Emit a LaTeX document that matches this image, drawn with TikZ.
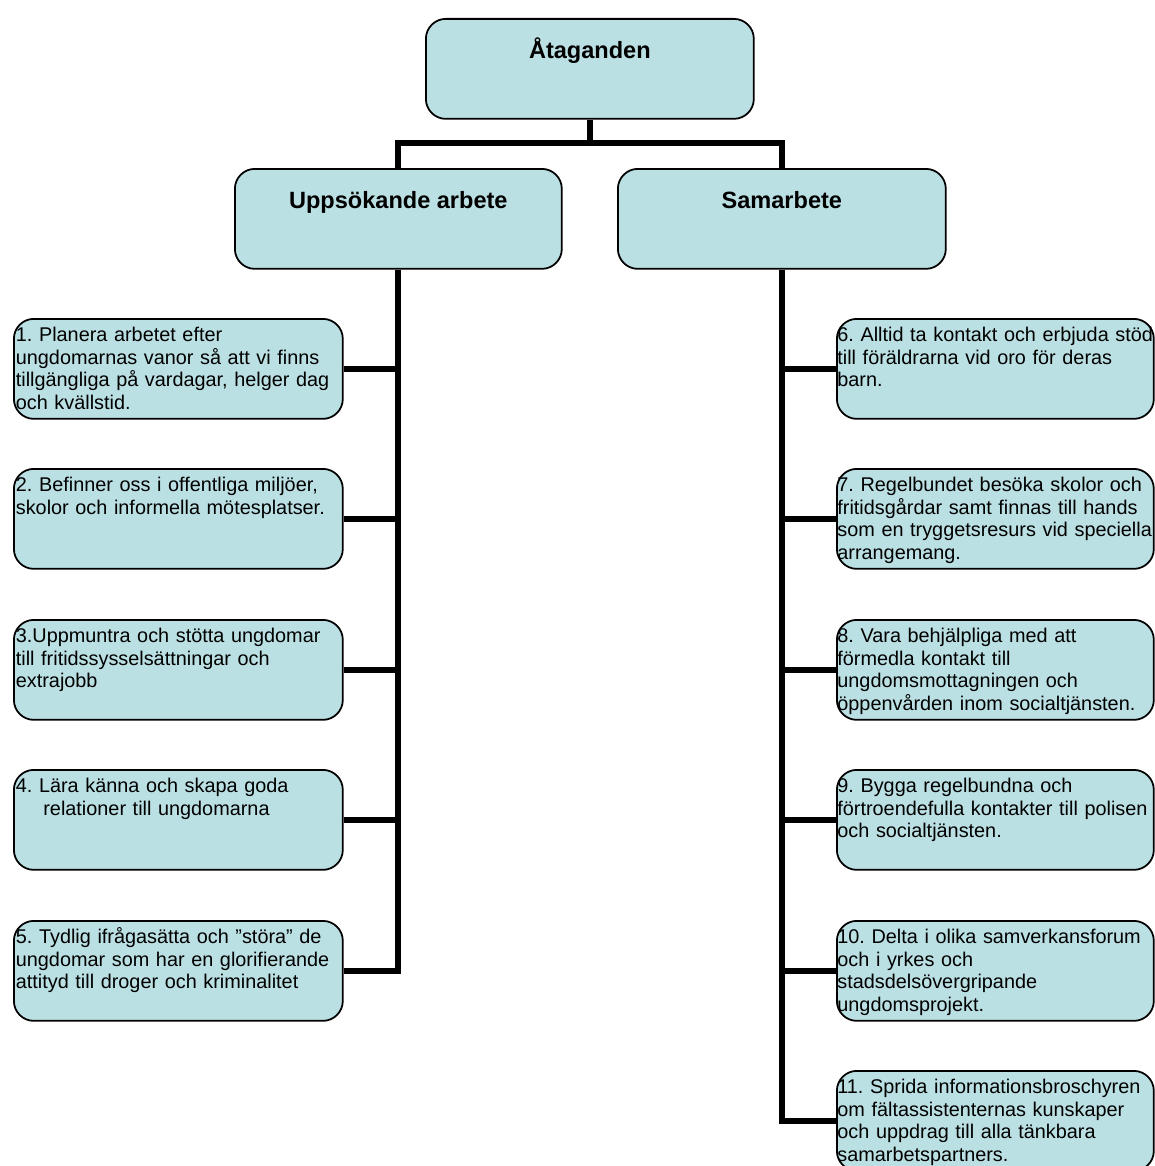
\documentclass[tikz,border=0pt]{standalone}
\usepackage{fontspec}
\setmainfont{Liberation Sans}
\usetikzlibrary{calc}
\frenchspacing
\definecolor{boxfill}{RGB}{187,224,227}
\tikzset{
  box/.style={draw, fill=boxfill, line width=1pt, rounded corners=0.4cm, inner sep=0pt, anchor=north west},
  head/.style={box, font=\fontsize{13.4}{16}\selectfont\bfseries, text height=0.8cm, text depth=1.2cm},
  item/.style={box, font=\fontsize{11.3}{12.8}\selectfont, align=left, inner xsep=0.04cm, text height=0.46cm, text depth=1.54cm},
  ritem/.style={item, inner xsep=0.01cm, text width=6.32cm},
  litem/.style={item, text width=6.5cm},
  conn/.style={line width=3.4pt}
}
\begin{document}
\begin{tikzpicture}[x=0.02cm,y=-0.02cm]
\useasboundingbox (0,0) rectangle (1154,1166);
\node[head, minimum width=6.56cm] (top) at (425,18) {Åtaganden};
\node[head, minimum width=6.54cm] (upps) at (234,168) {Uppsökande arbete};
\node[head, minimum width=6.56cm] (samarb) at (617,168) {Samarbete};

\node[litem] (u1) at (13,318) {1. Planera arbetet efter\\ungdomarnas vanor så att vi finns\\tillgängliga på vardagar, helger dag\\och kvällstid.};
\node[litem] (u2) at (13,468) {2. Befinner oss i offentliga miljöer,\\skolor och informella mötesplatser.};
\node[litem] (u3) at (13,619) {3.Uppmuntra och stötta ungdomar\\till fritidssysselsättningar och\\extrajobb};
\node[litem] (u4) at (13,769) {4. Lära känna och skapa goda\\\hspace*{0.55cm}relationer till ungdomarna};
\node[litem] (u5) at (13,920) {5. Tydlig ifrågasätta och ”störa” de\\ungdomar som har en glorifierande\\attityd till droger och kriminalitet};

\node[ritem] (s6) at (836,318) {6. Alltid ta kontakt och erbjuda stöd\\till föräldrarna vid oro för deras\\barn.};
\node[ritem] (s7) at (836,468) {7. Regelbundet besöka skolor och\\fritidsgårdar samt finnas till hands\\som en tryggetsresurs vid speciella\\arrangemang.};
\node[ritem] (s8) at (836,619) {8. Vara behjälpliga med att\\förmedla kontakt till\\ungdomsmottagningen och\\öppenvården inom socialtjänsten.};
\node[ritem] (s9) at (836,769) {9. Bygga regelbundna och\\förtroendefulla kontakter till polisen\\och socialtjänsten.};
\node[ritem] (s10) at (836,920) {10. Delta i olika samverkansforum\\och i yrkes och\\stadsdelsövergripande\\ungdomsprojekt.};
\node[ritem] (s11) at (836,1070) {11. Sprida informationsbroschyren\\om fältassistenternas kunskaper\\och uppdrag till alla tänkbara\\samarbetspartners.};

\coordinate (split) at (top.south |- 0,143);
\draw[conn] (top.south) -- (split);
\draw[conn] (upps.north) |- (split) -| (samarb.north);
\draw[conn] (upps.south) |- (u5.east);
\foreach \i in {1,...,4} \draw[conn] (u\i.east) -- (u\i.east -| upps.south);
\draw[conn] (samarb.south) |- (s11.west);
\foreach \i in {6,...,10} \draw[conn] (s\i.west) -- (s\i.west -| samarb.south);
\end{tikzpicture}
\end{document}
